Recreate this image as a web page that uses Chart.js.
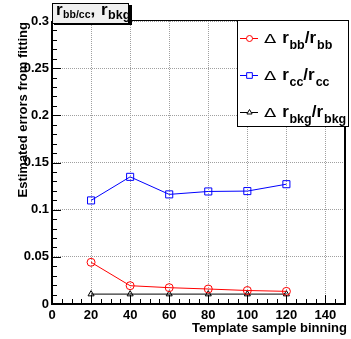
<!DOCTYPE html>
<html>
<head>
<meta charset="utf-8">
<script src="https://cdn.jsdelivr.net/npm/chart.js@4"></script>
<style>
  html, body { margin: 0; padding: 0; background: #fff; }
  canvas { display: block; }
</style>
</head>
<body>
<canvas id="errChart" width="351" height="339"></canvas>
<script>
// template sample binning and estimated relative errors
const binning = [20, 40, 60, 80, 100, 120];
const errBB = [0.0442, 0.0194, 0.0173, 0.0159, 0.0143, 0.0134];
const errCC = [0.1098, 0.1348, 0.1162, 0.1193, 0.1197, 0.1270];
const errBkg = [0.0105, 0.0105, 0.0105, 0.0105, 0.0105, 0.0105];

const xTicks = [0, 20, 40, 60, 80, 100, 120, 140];
const yTicks = [0, 0.05, 0.1, 0.15, 0.2, 0.25, 0.3];

const FONT = '"Liberation Sans", Arial, Helvetica, sans-serif';

function toPoints(values) {
  return binning.map((b, i) => ({ x: b, y: values[i] }));
}

function makeSeries(label, values, color, style, radius) {
  return {
    label,
    data: toPoints(values),
    borderColor: color,
    backgroundColor: color,
    borderWidth: 1,
    pointStyle: style,
    pointRadius: radius,
    pointBorderWidth: 1,
    pointBorderColor: color,
    pointBackgroundColor: 'rgba(0,0,0,0)',
    tension: 0
  };
}

// draws text pieces with sub-scripts, returns end x
function drawRich(ctx, parts, x, y) {
  for (const p of parts) {
    ctx.font = p.font;
    const sx = p.sx || 1;
    ctx.save();
    ctx.translate(x, y + (p.dy || 0));
    ctx.scale(sx, 1);
    ctx.fillText(p.t, 0, 0);
    ctx.restore();
    x += ctx.measureText(p.t).width * sx + (p.gap || 0);
  }
  return x;
}

const legendRows = [
  { sub: 'bb', color: '#ff0000', style: 'circle', r: 3 },
  { sub: 'cc', color: '#0000ff', style: 'rect', r: 4 },
  { sub: 'bkg', color: '#000000', style: 'triangle', r: 3 }
];

const decoPlugin = {
  id: 'deco',
  afterDraw(chart) {
    const { ctx, chartArea: a, scales: { x, y } } = chart;
    ctx.save();

    // tick marks pointing into the frame
    ctx.strokeStyle = '#000';
    ctx.lineWidth = 1;
    ctx.beginPath();
    for (let v = 0; v <= 150; v += 5) {
      const px = Math.round(x.getPixelForValue(v)) + 0.5;
      const len = v % 20 === 0 ? 9 : 5;
      ctx.moveTo(px, a.bottom);
      ctx.lineTo(px, a.bottom - len);
    }
    for (let i = 0; i <= 30; i++) {
      const py = Math.round(y.getPixelForValue(i / 100)) + 0.5;
      const len = i % 5 === 0 ? 9 : 5;
      ctx.moveTo(a.left, py);
      ctx.lineTo(a.left + len, py);
    }
    ctx.stroke();

    // frame
    ctx.fillStyle = '#000';
    ctx.fillRect(a.left - 1, a.top, 2, a.bottom - a.top + 1);
    ctx.fillRect(a.left - 1, a.bottom - 1, a.right - a.left + 1, 2);
    ctx.fillRect(a.right - 1, a.top, 2, a.bottom - a.top + 1);
    ctx.fillRect(a.left, a.top - 1, a.right - a.left, 1);

    // axis titles
    ctx.fillStyle = '#000';
    ctx.font = 'bold 13px ' + FONT;
    ctx.textAlign = 'right';
    ctx.textBaseline = 'alphabetic';
    ctx.fillText('Template sample binning', 347, 331.5);
    ctx.save();
    ctx.translate(26.5, 22);
    ctx.rotate(-Math.PI / 2);
    ctx.fillText('Estimated errors from fitting', 0, 0);
    ctx.restore();

    // title box
    ctx.fillStyle = '#000';
    ctx.fillRect(54, 5, 78, 20);
    ctx.fillStyle = '#f0f0f0';
    ctx.fillRect(52, 3, 77, 20);
    ctx.strokeStyle = '#000';
    ctx.strokeRect(52.5, 3.5, 76, 20);
    ctx.fillStyle = '#000';
    ctx.textAlign = 'left';
    drawRich(ctx, [
      { t: 'r', font: 'bold 17px ' + FONT, gap: 0.5 },
      { t: 'bb/cc', font: 'bold 10.5px ' + FONT, dy: 3 },
      { t: ', ', font: 'bold 17px ' + FONT, gap: 1 },
      { t: 'r', font: 'bold 17px ' + FONT, gap: 0.5 },
      { t: 'bkg', font: 'bold 12.5px ' + FONT, dy: 4 }
    ], 56, 14.5);

    // legend box
    const lx = 237, ly = 20, lw = 111, lh = 106;
    ctx.fillStyle = '#fff';
    ctx.fillRect(lx, ly, lw, lh);
    ctx.strokeStyle = '#000';
    ctx.lineWidth = 1;
    ctx.strokeRect(lx + 0.5, ly + 0.5, lw, lh);

    legendRows.forEach((row, i) => {
      const base = 43 + 37 * i;
      const my = base - 4.5;
      ctx.strokeStyle = row.color;
      ctx.lineWidth = 1;
      ctx.beginPath();
      ctx.moveTo(240, my);
      ctx.lineTo(258, my);
      ctx.stroke();
      ctx.fillStyle = '#fff';
      Chart.helpers.drawPoint(ctx, {
        pointStyle: row.style, radius: row.r, rotation: 0, borderWidth: 1
      }, 249.5, my);
      ctx.fillStyle = '#000';
      drawRich(ctx, [
        { t: '\u0394', font: '12px "DejaVu Sans", sans-serif', sx: 1.5, gap: 6 },
        { t: 'r', font: 'bold 17px ' + FONT, gap: 0.5 },
        { t: row.sub, font: 'bold 12.5px ' + FONT, dy: 6 },
        { t: '/', font: 'bold 17px ' + FONT },
        { t: 'r', font: 'bold 17px ' + FONT, gap: 1 },
        { t: row.sub, font: 'bold 12.5px ' + FONT, dy: 6 }
      ], 264, base);
    });

    ctx.restore();
  }
};

const ctx = document.getElementById('errChart').getContext('2d');

const errChart = new Chart(ctx, {
  type: 'line',
  data: {
    datasets: [
      makeSeries('\u0394 r_bb/r_bb', errBB, '#ff0000', 'circle', 4),
      makeSeries('\u0394 r_cc/r_cc', errCC, '#0000ff', 'rect', 5),
      makeSeries('\u0394 r_bkg/r_bkg', errBkg, '#000000', 'triangle', 3.5)
    ]
  },
  options: {
    responsive: false,
    devicePixelRatio: 1,
    animation: false,
    layout: { padding: { top: 21, right: 3, left: 0, bottom: 0 } },
    plugins: {
      legend: { display: false },
      tooltip: { enabled: false },
      title: { display: false }
    },
    scales: {
      x: {
        type: 'linear',
        min: 0,
        max: 150,
        afterFit(scale) { scale.height = 35; },
        afterBuildTicks(scale) { scale.ticks = xTicks.map(v => ({ value: v })); },
        grid: { color: '#a0a0a0', drawTicks: false, tickLength: 0 },
        border: { display: false, dash: [1, 1] },
        ticks: {
          color: '#000',
          padding: 4,
          maxRotation: 0,
          font: { family: FONT, size: 13, weight: 'bold' },
          callback: v => String(v)
        }
      },
      y: {
        type: 'linear',
        min: 0,
        max: 0.3,
        afterFit(scale) { scale.width = 52; },
        afterBuildTicks(scale) { scale.ticks = yTicks.map(v => ({ value: v })); },
        grid: { color: '#a0a0a0', drawTicks: false, tickLength: 0 },
        border: { display: false, dash: [1, 1] },
        ticks: {
          color: '#000',
          padding: 3,
          font: { family: FONT, size: 13, weight: 'bold' },
          callback: v => String(+v.toFixed(2))
        }
      }
    }
  },
  plugins: [decoPlugin]
});
</script>
</body>
</html>
